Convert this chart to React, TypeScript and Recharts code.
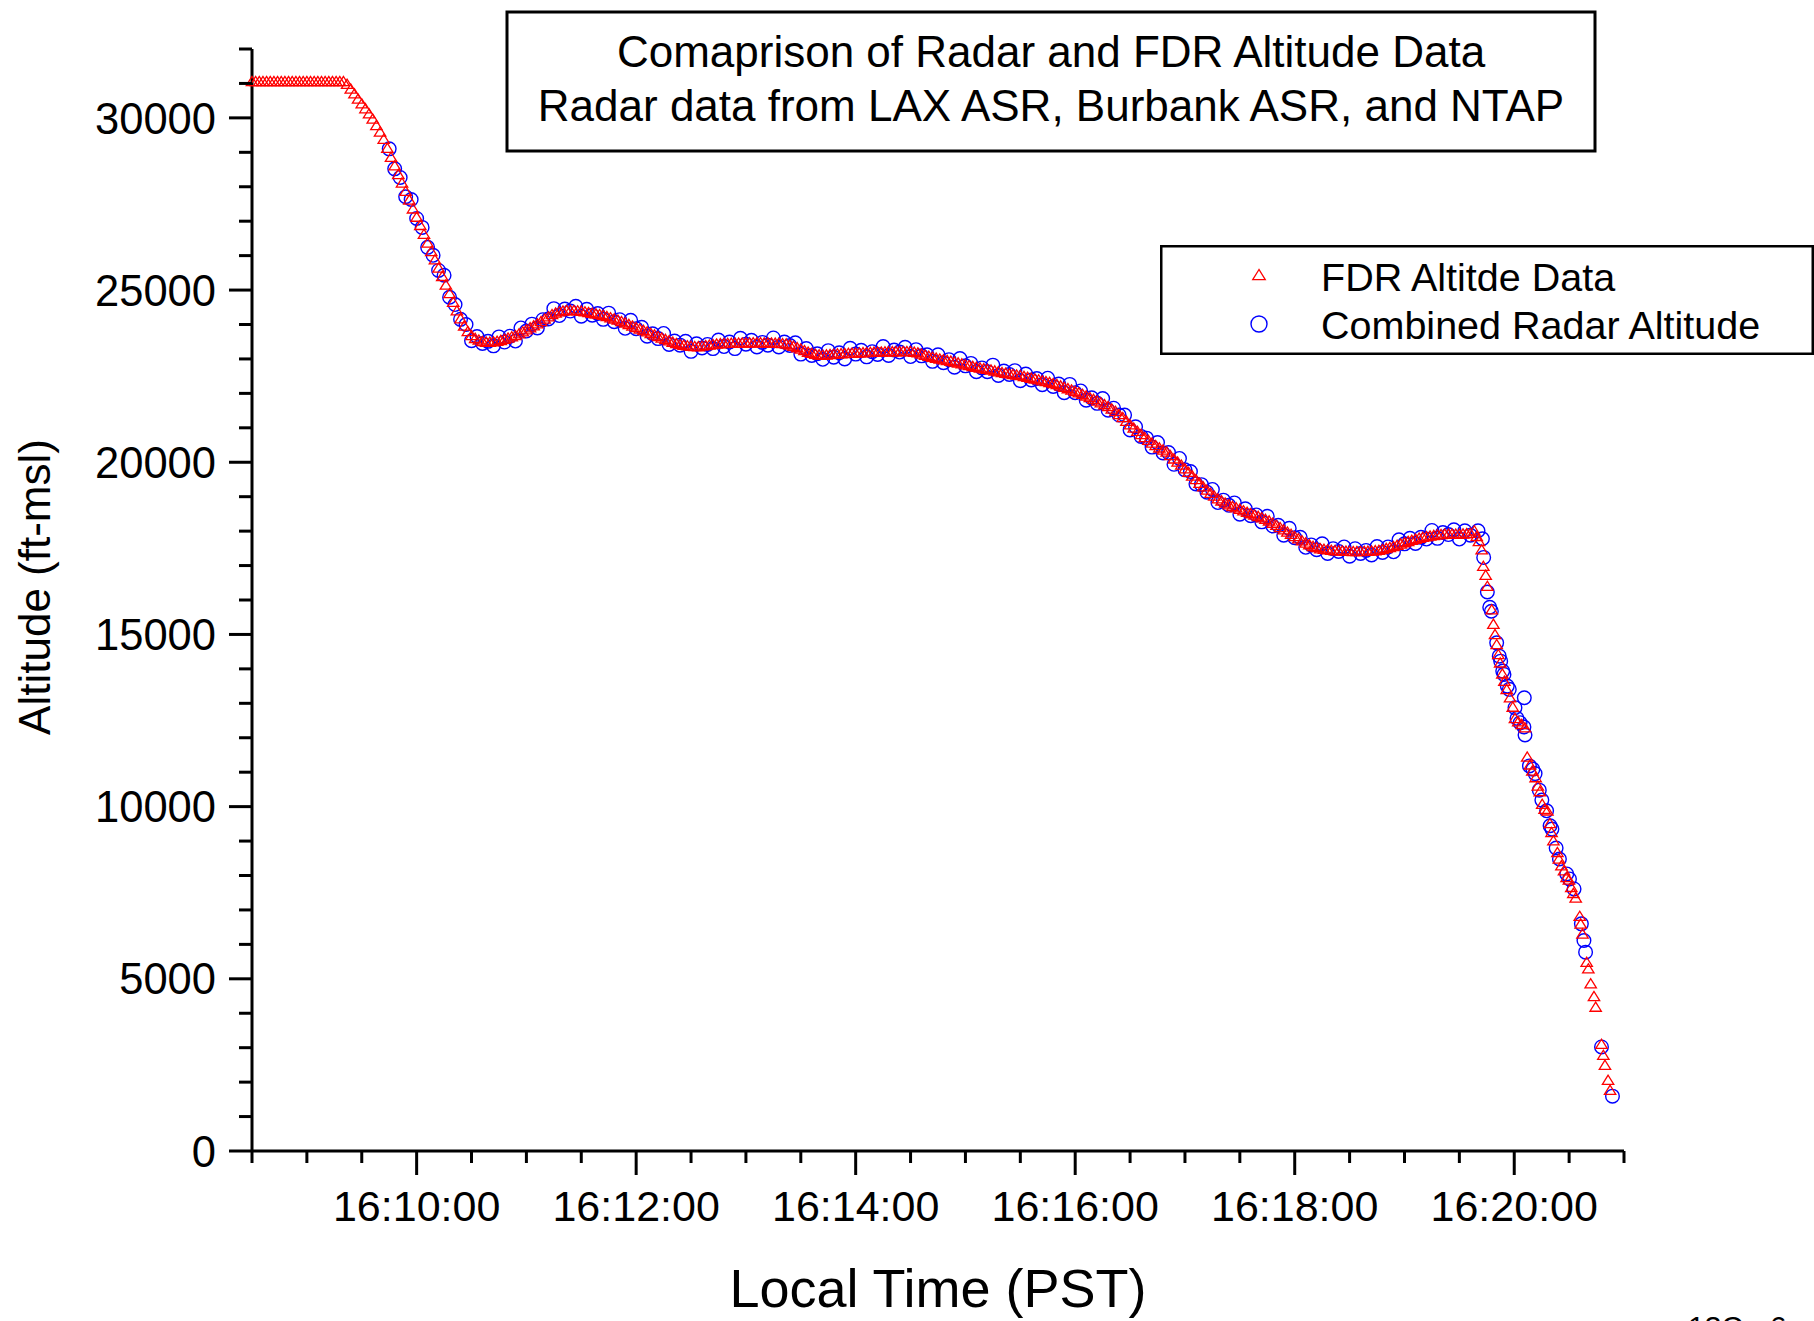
import { ScatterChart, Scatter, XAxis, YAxis, Legend } from "recharts"

const FONT = '"Liberation Sans", Arial, Helvetica, sans-serif'

// [seconds after 16:00:00, altitude ft-msl]
const fdrSamples: [number, number][] = [
  [510, 31060], [512, 31060], [514, 31060], [516, 31060], [518, 31060], [520, 31060],
  [522, 31060], [524, 31060], [526, 31060], [528, 31060], [530, 31060], [532, 31060],
  [534, 31060], [536, 31060], [538, 31060], [540, 31060], [542, 31060], [544, 31060],
  [546, 31060], [548, 31060], [550, 31060], [552, 31060], [554, 31060], [556, 31060],
  [558, 31060], [560, 31060], [562, 30980], [564, 30840], [566, 30700], [568, 30550],
  [570, 30410], [572, 30270], [574, 30120], [576, 29970], [578, 29780], [580, 29590],
  [582, 29380], [584, 29120], [586, 28860], [588, 28610], [590, 28360], [592, 28110],
  [594, 27870], [596, 27620], [598, 27360], [600, 27120], [602, 26880], [604, 26620],
  [606, 26370], [608, 26120], [610, 25880], [612, 25640], [614, 25400], [616, 25150],
  [618, 24900], [620, 24650], [622, 24400], [624, 24170], [626, 23960], [628, 23800],
  [630, 23680], [632, 23600], [634, 23550], [636, 23510], [638, 23490], [640, 23490],
  [642, 23500], [644, 23515], [646, 23540], [648, 23575], [650, 23610], [652, 23645],
  [654, 23680], [656, 23735], [658, 23790], [660, 23850], [662, 23910], [664, 23965],
  [666, 24025], [668, 24090], [670, 24160], [672, 24225], [674, 24290], [676, 24335],
  [678, 24370], [680, 24395], [682, 24410], [684, 24413], [686, 24410], [688, 24400],
  [690, 24390], [692, 24370], [694, 24350], [696, 24330], [698, 24310], [700, 24290],
  [702, 24268], [704, 24235], [706, 24200], [708, 24165], [710, 24130], [712, 24090],
  [714, 24050], [716, 24005], [718, 23960], [720, 23915], [722, 23870], [724, 23830],
  [726, 23790], [728, 23745], [730, 23700], [732, 23655], [734, 23610], [736, 23570],
  [738, 23530], [740, 23490], [742, 23450], [744, 23420], [746, 23400], [748, 23385],
  [750, 23370], [752, 23362], [754, 23360], [756, 23375], [758, 23390], [760, 23405],
  [762, 23420], [764, 23435], [766, 23446], [768, 23450], [770, 23455], [772, 23458],
  [774, 23460], [776, 23462], [778, 23465], [780, 23468], [782, 23470], [784, 23473],
  [786, 23475], [788, 23472], [790, 23470], [792, 23468], [794, 23465], [796, 23460],
  [798, 23455], [800, 23448], [802, 23440], [804, 23410], [806, 23370], [808, 23330],
  [810, 23290], [812, 23245], [814, 23200], [816, 23165], [818, 23140], [820, 23120],
  [822, 23110], [824, 23120], [826, 23130], [828, 23140], [830, 23150], [832, 23155],
  [834, 23160], [836, 23165], [838, 23170], [840, 23175], [842, 23180], [844, 23185],
  [846, 23190], [848, 23195], [850, 23200], [852, 23203], [854, 23205], [856, 23208],
  [858, 23210], [860, 23213], [862, 23215], [864, 23218], [866, 23220], [868, 23220],
  [870, 23220], [872, 23200], [874, 23180], [876, 23145], [878, 23110], [880, 23080],
  [882, 23050], [884, 23025], [886, 23000], [888, 22980], [890, 22960], [892, 22938],
  [894, 22915], [896, 22888], [898, 22860], [900, 22835], [902, 22810], [904, 22785],
  [906, 22760], [908, 22740], [910, 22720], [912, 22700], [914, 22680], [916, 22655],
  [918, 22630], [920, 22610], [922, 22590], [924, 22570], [926, 22550], [928, 22535],
  [930, 22520], [932, 22495], [934, 22470], [936, 22445], [938, 22420], [940, 22395],
  [942, 22370], [944, 22345], [946, 22320], [948, 22290], [950, 22260], [952, 22220],
  [954, 22180], [956, 22140], [958, 22100], [960, 22060], [962, 22020], [964, 21975],
  [966, 21930], [968, 21880], [970, 21830], [972, 21780], [974, 21730], [976, 21675],
  [978, 21620], [980, 21550], [982, 21480], [984, 21390], [986, 21300], [988, 21195],
  [990, 21090], [992, 20995], [994, 20900], [996, 20810], [998, 20720], [1000, 20640],
  [1002, 20560], [1004, 20490], [1006, 20420], [1008, 20360], [1010, 20300], [1012, 20200],
  [1014, 20100], [1016, 20010], [1018, 19920], [1020, 19815], [1022, 19710], [1024, 19605],
  [1026, 19500], [1028, 19395], [1030, 19290], [1032, 19195], [1034, 19100], [1036, 19020],
  [1038, 18940], [1040, 18880], [1042, 18820], [1044, 18770], [1046, 18720], [1048, 18680],
  [1050, 18640], [1052, 18595], [1054, 18550], [1056, 18510], [1058, 18470], [1060, 18430],
  [1062, 18390], [1064, 18345], [1066, 18300], [1068, 18235], [1070, 18170], [1072, 18105],
  [1074, 18040], [1076, 17975], [1078, 17910], [1080, 17845], [1082, 17780], [1084, 17720],
  [1086, 17660], [1088, 17610], [1090, 17560], [1092, 17525], [1094, 17490], [1096, 17475],
  [1098, 17460], [1100, 17448], [1102, 17435], [1104, 17430], [1106, 17425], [1108, 17420],
  [1110, 17415], [1112, 17412], [1114, 17410], [1116, 17412], [1118, 17415], [1120, 17420],
  [1122, 17425], [1124, 17435], [1126, 17445], [1128, 17470], [1130, 17500], [1132, 17528],
  [1134, 17556], [1136, 17593], [1138, 17630], [1140, 17668], [1142, 17705], [1144, 17738],
  [1146, 17770], [1148, 17798], [1150, 17825], [1152, 17843], [1154, 17860], [1156, 17878],
  [1158, 17895], [1160, 17905], [1162, 17915], [1164, 17915], [1166, 17915], [1168, 17915],
  [1170, 17915], [1172, 17922], [1174, 17930], [1176, 17940],
  // final descent
  [1178.2, 18010], [1179.5, 17850], [1180.7, 17700], [1182.2, 17460], [1183.1, 16980],
  [1184.4, 16720], [1185.3, 16400], [1187.7, 15720], [1188.6, 15300], [1189.5, 15000],
  [1190.4, 14708], [1191.3, 14418], [1192.3, 14176], [1193.5, 13857], [1194.6, 13645],
  [1195.9, 13405], [1197.7, 13162], [1199.2, 12892], [1200.4, 12564], [1202.2, 12466],
  [1204.1, 12390], [1205.9, 12292], [1207.1, 11443], [1208.6, 11215], [1209.9, 11038],
  [1211.7, 10844], [1212.9, 10603], [1214.0, 10438], [1215.3, 10073], [1216.6, 9928],
  [1218.1, 9879], [1219.5, 9511], [1220.4, 9250], [1221.4, 9010], [1223.6, 8671],
  [1224.4, 8479], [1225.8, 8285], [1227.2, 8141], [1228.6, 7947], [1229.9, 7871],
  [1231.2, 7657], [1232.3, 7483], [1233.6, 7350], [1235.8, 6817], [1236.3, 6596],
  [1237.3, 6306], [1239.6, 5484], [1240.5, 5292], [1241.8, 4858], [1243.6, 4490],
  [1244.5, 4180], [1247.7, 3100], [1248.7, 2781], [1249.6, 2491], [1251.3, 2057],
  [1252.4, 1767],
]

const radarSamples: [number, number][] = [
  [585, 29100], [588, 28520], [591, 28270], [594, 27710], [597, 27630], [600, 27080],
  [603, 26820], [606, 26240], [609, 26010], [612, 25570], [615, 25430], [618, 24790],
  [621, 24580], [624, 24150], [627, 24000], [630, 23530], [633, 23650], [636, 23450],
  [639, 23510], [642, 23380], [645, 23640], [648, 23490], [651, 23660], [654, 23520],
  [657, 23900], [660, 23810], [663, 24010], [666, 23900], [669, 24140], [672, 24160],
  [675, 24460], [678, 24260], [681, 24450], [684, 24390], [687, 24530], [690, 24240],
  [693, 24440], [696, 24270], [699, 24320], [702, 24150], [705, 24330], [708, 24080],
  [711, 24140], [714, 23890], [717, 24120], [720, 23880], [723, 23920], [726, 23660],
  [729, 23730], [732, 23590], [735, 23740], [738, 23420], [741, 23520], [744, 23400],
  [747, 23510], [750, 23220], [753, 23440], [756, 23320], [759, 23420], [762, 23300],
  [765, 23550], [768, 23360], [771, 23490], [774, 23300], [777, 23600], [780, 23430],
  [783, 23540], [786, 23350], [789, 23480], [792, 23400], [795, 23610], [798, 23350],
  [801, 23490], [804, 23390], [807, 23470], [810, 23140], [813, 23300], [816, 23100],
  [819, 23150], [822, 22990], [825, 23240], [828, 23050], [831, 23180], [834, 23000],
  [837, 23310], [840, 23140], [843, 23250], [846, 23060], [849, 23210], [852, 23130],
  [855, 23360], [858, 23100], [861, 23260], [864, 23200], [867, 23340], [870, 23070],
  [873, 23270], [876, 23090], [879, 23120], [882, 22930], [885, 23120], [888, 22890],
  [891, 22980], [894, 22760], [897, 23010], [900, 22800], [903, 22870], [906, 22630],
  [909, 22740], [912, 22630], [915, 22820], [918, 22520], [921, 22650], [924, 22550],
  [927, 22660], [930, 22370], [933, 22560], [936, 22390], [939, 22430], [942, 22250],
  [945, 22440], [948, 22200], [951, 22270], [954, 22020], [957, 22260], [960, 22020],
  [963, 22070], [966, 21800], [969, 21870], [972, 21710], [975, 21850], [978, 21510],
  [981, 21570], [984, 21370], [987, 21370], [990, 20940], [993, 21030], [996, 20750],
  [999, 20700], [1002, 20440], [1005, 20570], [1008, 20270], [1011, 20280], [1014, 19940],
  [1017, 20110], [1020, 19780], [1023, 19730], [1026, 19370], [1029, 19350], [1032, 19130],
  [1035, 19210], [1038, 18830], [1041, 18900], [1044, 18750], [1047, 18820], [1050, 18490],
  [1053, 18650], [1056, 18450], [1059, 18470], [1062, 18270], [1065, 18430], [1068, 18150],
  [1071, 18170], [1074, 17880], [1077, 18080], [1080, 17810], [1083, 17820], [1086, 17530],
  [1089, 17600], [1092, 17460], [1095, 17630], [1098, 17350], [1101, 17490], [1104, 17410],
  [1107, 17540], [1110, 17270], [1113, 17490], [1116, 17350], [1119, 17440], [1122, 17310],
  [1125, 17550], [1128, 17380], [1131, 17540], [1134, 17400], [1137, 17750], [1140, 17630],
  [1143, 17790], [1146, 17640], [1149, 17820], [1152, 17770], [1155, 18020], [1158, 17790],
  [1161, 17960], [1164, 17900], [1167, 18040], [1170, 17770], [1173, 18010], [1176, 17880],
  // final descent
  [1180.2, 18011], [1182.6, 17779], [1183.3, 17237], [1185.3, 16232], [1186.6, 15789],
  [1187.5, 15673], [1190.4, 14756], [1191.8, 14370], [1192.6, 14225], [1193.7, 13935],
  [1194.4, 13839], [1196.2, 13500], [1197.3, 13405], [1205.5, 13162], [1200.4, 12873],
  [1201.5, 12564], [1203.2, 12437], [1205.3, 12312], [1205.9, 12080], [1208.3, 11182],
  [1210.2, 11087], [1211.4, 10959], [1213.7, 10478], [1215.1, 10189], [1217.7, 9879],
  [1219.6, 9444], [1220.6, 9348], [1222.9, 8798], [1224.7, 8479], [1228.7, 8045],
  [1230.2, 7900], [1232.7, 7610], [1236.7, 6596], [1238.1, 6113], [1239.0, 5774],
  [1247.7, 3022], [1253.7, 1593],
]

const timeTicks = [
  510, 540, 570, 600, 630, 660, 690, 720, 750, 780, 810, 840, 870,
  900, 930, 960, 990, 1020, 1050, 1080, 1110, 1140, 1170, 1200, 1230, 1260,
]
const altTicks = [
  0, 1000, 2000, 3000, 4000, 5000, 6000, 7000, 8000, 9000, 10000, 11000, 12000,
  13000, 14000, 15000, 16000, 17000, 18000, 19000, 20000, 21000, 22000, 23000,
  24000, 25000, 26000, 27000, 28000, 29000, 30000, 31000, 32000,
]

const titleLines = ["Comaprison of Radar and FDR Altitude Data", "Radar data from LAX ASR, Burbank ASR, and NTAP"]
const seriesNames = ["FDR Altitde Data", "Combined Radar Altitude"]

const fdrData = fdrSamples.map(([t, alt]) => ({ t, alt }))
const radarData = radarSamples.map(([t, alt]) => ({ t, alt }))

const pad = (n: number) => String(n).padStart(2, "0")
const clock = (sec: number) => `${16 + Math.floor(sec / 3600)}:${pad(Math.floor((sec % 3600) / 60))}:${pad(sec % 60)}`

function Tri({ cx, cy, s = 1 }: { cx: number; cy: number; s?: number }) {
  const w = 5.7 * s
  return (
    <polygon
      points={`${cx},${cy - 5 * s} ${cx - w},${cy + 4.2 * s} ${cx + w},${cy + 4.2 * s}`}
      fill="none"
      stroke="#ff0000"
      strokeWidth={1.3}
    />
  )
}

function Ring({ cx, cy, r = 6.8 }: { cx: number; cy: number; r?: number }) {
  return <circle cx={cx} cy={cy} r={r} fill="none" stroke="#0000ff" strokeWidth={1.4} />
}

function TimeTick({ x, y, payload }: any) {
  const major = payload.value % 120 === 0
  return (
    <g>
      <line x1={x} y1={y} x2={x} y2={y + (major ? 24 : 12)} stroke="#000" strokeWidth={3} />
      {major && (
        <text x={x} y={y + 70} textAnchor="middle" fontSize={43} fontFamily={FONT} fill="#000">
          {clock(payload.value)}
        </text>
      )}
    </g>
  )
}

function AltTick({ x, y, payload }: any) {
  const major = payload.value % 5000 === 0
  return (
    <g>
      <line x1={x} y1={y} x2={x - (major ? 23 : 13)} y2={y} stroke="#000" strokeWidth={3} />
      {major && (
        <text x={x - 36} y={y} dy="0.36em" textAnchor="end" fontSize={43.5} fontFamily={FONT} fill="#000">
          {payload.value}
        </text>
      )}
    </g>
  )
}

function LegendBox() {
  return (
    <svg width={654} height={110} style={{ display: "block" }}>
      <rect x={1.25} y={1.25} width={651.5} height={107.5} fill="#fff" stroke="#000" strokeWidth={2.5} />
      <Tri cx={99} cy={30} s={1.1} />
      <text x={161} y={31.5} dy="0.36em" fontSize={39.5} fontFamily={FONT} fill="#000">
        {seriesNames[0]}
      </text>
      <Ring cx={99} cy={79} r={8} />
      <text x={161} y={80} dy="0.36em" fontSize={39.5} fontFamily={FONT} fill="#000">
        {seriesNames[1]}
      </text>
    </svg>
  )
}

export default function App() {
  return (
    <div
      style={{
        position: "absolute",
        left: 0,
        top: 0,
        width: 1814,
        height: 1321,
        overflow: "hidden",
        background: "#fff",
      }}
    >
      <ScatterChart width={1814} height={1321} margin={{ top: 49, right: 190, bottom: 0, left: 0 }}>
        <XAxis
          type="number"
          dataKey="t"
          domain={[510, 1260]}
          ticks={timeTicks}
          interval={0}
          height={170}
          tickSize={0}
          tickMargin={0}
          tickLine={false}
          axisLine={{ stroke: "#000", strokeWidth: 3 }}
          tick={<TimeTick />}
          label={{
            value: "Local Time (PST)",
            position: "insideBottom",
            offset: 14,
            fill: "#000",
            fontSize: 54,
            fontFamily: FONT,
          }}
        />
        <YAxis
          type="number"
          dataKey="alt"
          domain={[0, 32000]}
          ticks={altTicks}
          interval={0}
          width={252}
          tickSize={0}
          tickMargin={0}
          tickLine={false}
          axisLine={{ stroke: "#000", strokeWidth: 3 }}
          tick={<AltTick />}
          label={{
            content: () => (
              <text
                x={34}
                y={587}
                transform="rotate(-90 34 587)"
                textAnchor="middle"
                dy="0.36em"
                fontSize={44}
                fontFamily={FONT}
                fill="#000"
              >
                Altitude (ft-msl)
              </text>
            ),
          }}
        />
        <Scatter
          name={seriesNames[1]}
          data={radarData}
          isAnimationActive={false}
          shape={(p: any) => <Ring cx={p.cx} cy={p.cy} />}
        />
        <Scatter
          name={seriesNames[0]}
          data={fdrData}
          isAnimationActive={false}
          shape={(p: any) => <Tri cx={p.cx} cy={p.cy} />}
        />
        <Legend
          layout="vertical"
          align="center"
          verticalAlign="middle"
          content={() => <LegendBox />}
          wrapperStyle={{ left: 1160, top: 245, width: 654, height: 110 }}
        />
      </ScatterChart>
      <svg
        width={1814}
        height={1321}
        style={{ position: "absolute", left: 0, top: 0, pointerEvents: "none" }}
      >
        <rect x={507} y={12} width={1088} height={139} fill="#fff" stroke="#000" strokeWidth={3} />
        {titleLines.map((line, i) => (
          <text
            key={line}
            x={1051}
            y={51 + i * 54}
            dy="0.36em"
            textAnchor="middle"
            fontSize={44}
            fontFamily={FONT}
            fill="#000"
          >
            {line}
          </text>
        ))}
        <text x={1688} y={1337} fontSize={30} fontFamily={FONT} fill="#000">
          13C - 6
        </text>
      </svg>
    </div>
  )
}
